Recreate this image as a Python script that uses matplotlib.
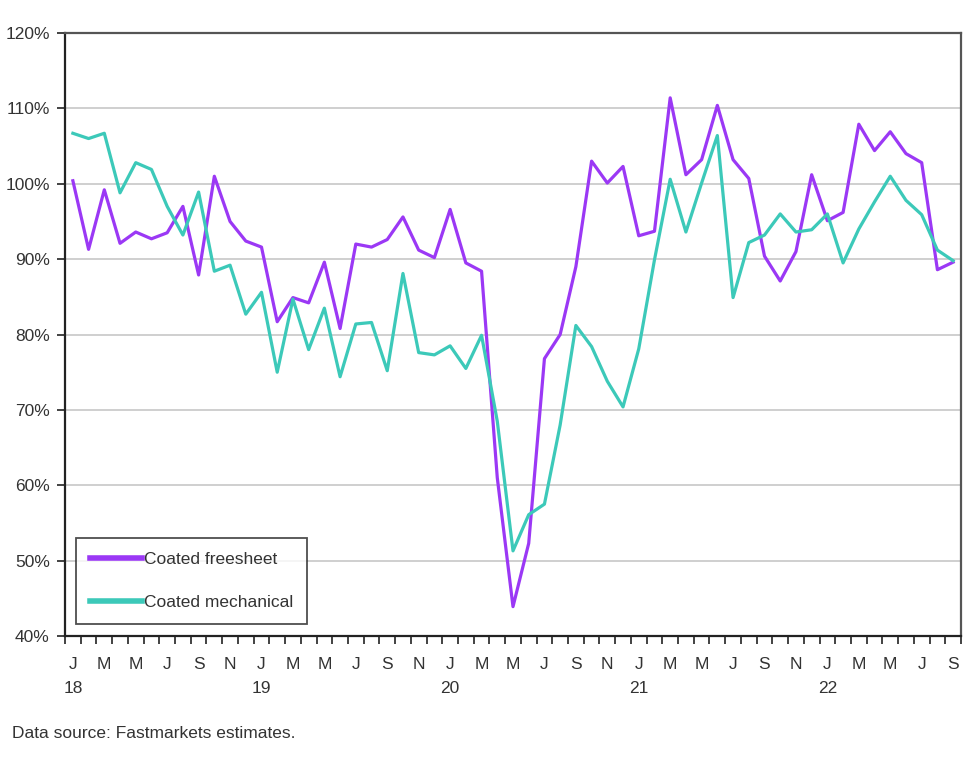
import matplotlib
matplotlib.use("Agg")
import matplotlib.pyplot as plt
import numpy as np

PURPLE = "#9B38F5"
TEAL = "#3CC9B9"
DGREY = "#333333"
GRID = "#CCCCCC"
FS = 12.5

# monthly index, Jan 2018 .. Sep 2022
months = list(range(57))
month_letters = ["J", "F", "M", "A", "M", "J", "J", "A", "S", "O", "N", "D"]
years = ["18", "19", "20", "21", "22"]

freesheet = [
    100.4, 91.3, 99.2, 92.1, 93.6, 92.7, 93.5, 97.0, 87.9, 101.0, 95.0, 92.4,
    91.6, 81.7, 84.9, 84.2, 89.6, 80.8, 92.0, 91.6, 92.6, 95.6, 91.2, 90.2,
    96.6, 89.5, 88.4, 61.0, 43.9, 52.3, 76.8, 80.0, 89.0, 103.0, 100.1, 102.3,
    93.1, 93.7, 111.4, 101.2, 103.2, 110.4, 103.2, 100.7, 90.4, 87.1, 91.0, 101.2,
    95.1, 96.2, 107.9, 104.4, 106.9, 104.0, 102.8, 88.6, 89.6,
]
mechanical = [
    106.7, 106.0, 106.7, 98.8, 102.8, 101.9, 97.0, 93.2, 98.9, 88.4, 89.2, 82.7,
    85.6, 75.0, 84.7, 78.0, 83.5, 74.4, 81.4, 81.6, 75.2, 88.1, 77.6, 77.3,
    78.5, 75.5, 79.9, 68.5, 51.3, 56.1, 57.5, 68.0, 81.2, 78.4, 73.8, 70.4,
    78.1, 89.9, 100.6, 93.6, 100.1, 106.4, 84.9, 92.2, 93.2, 96.0, 93.6, 93.9,
    96.0, 89.5, 94.0, 97.6, 101.0, 97.8, 95.9, 91.2, 89.8,
]

plt.rcParams["font.family"] = ["Liberation Sans", "DejaVu Sans"]

fig = plt.figure(figsize=(9.79, 7.59), dpi=100)
ax = fig.add_axes([0.0664, 0.162, 0.9152, 0.7945])

ax.plot(months, freesheet, color=PURPLE, lw=2.3, label="Coated freesheet", zorder=3)
ax.plot(months, mechanical, color=TEAL, lw=2.3, label="Coated mechanical", zorder=3)

ax.set_xlim(-0.5, 56.5)
ax.set_ylim(40, 120)

yt = np.arange(40, 121, 10)
ax.set_yticks(yt)
ax.set_yticklabels([f"{v}%" for v in yt], color=DGREY, fontsize=FS)
ax.grid(axis="y", color=GRID, lw=1.3)
ax.set_axisbelow(True)

# month boundary ticks, labels every second month
ax.set_xticks(np.arange(-0.5, 57, 1))
ax.set_xticklabels([])
ax.set_xticks(months[::2], minor=True)
labels = []
for m in months[::2]:
    lab = month_letters[m % 12]
    if m % 12 == 0:
        lab += "\n" + years[m // 12]
    labels.append(lab)
ax.set_xticklabels(labels, minor=True, color=DGREY, fontsize=FS, va="top", linespacing=1.8)
ax.tick_params(axis="x", which="major", direction="out", length=6, width=1.2, color="#222222")
ax.tick_params(axis="x", which="minor", length=0, pad=15)
ax.tick_params(axis="y", direction="out", length=6, width=1.2, color="#222222", pad=5)

for s in ["left", "bottom"]:
    ax.spines[s].set_color("#222222")
    ax.spines[s].set_linewidth(1.6)
for s in ["top", "right"]:
    ax.spines[s].set_color("#555555")
    ax.spines[s].set_linewidth(1.6)

leg = ax.legend(loc="lower left", bbox_to_anchor=(0.012, 0.02), fontsize=FS,
                frameon=True, fancybox=False, edgecolor="#222222",
                handlelength=3.0, handletextpad=0.15, labelspacing=1.6,
                borderpad=0.8, borderaxespad=0)
leg.get_frame().set_linewidth(1.3)
for line in leg.get_lines():
    line.set_linewidth(4)
for t in leg.get_texts():
    t.set_color(DGREY)

fig.text(0.012, 0.034, "Data source: Fastmarkets estimates.", fontsize=FS,
         color=DGREY, ha="left", va="center")

fig.savefig("out.png", dpi=100, facecolor="white")
